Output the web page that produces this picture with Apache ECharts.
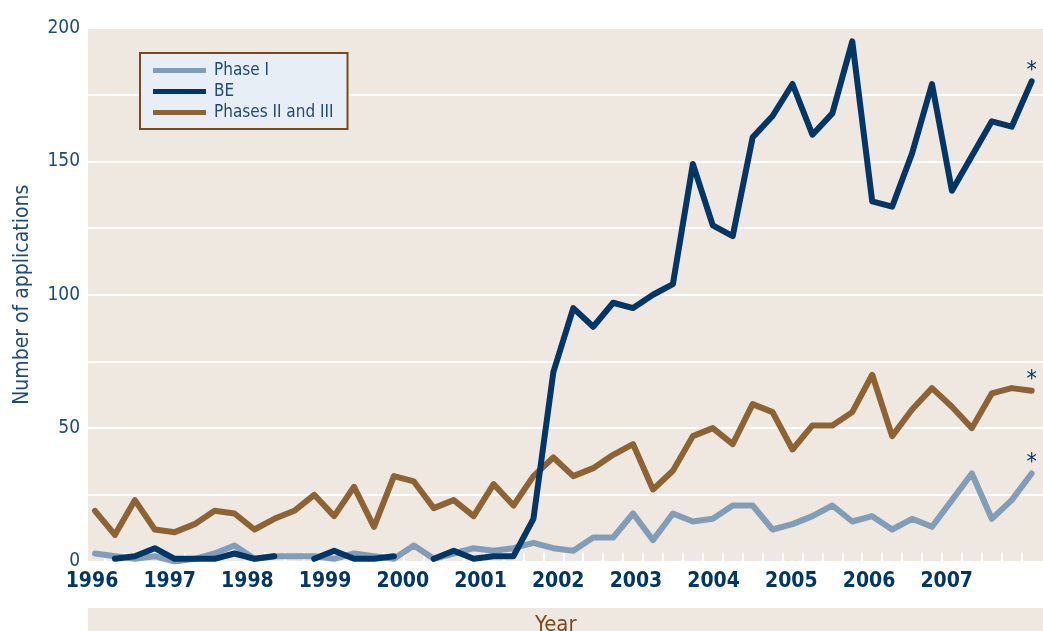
<!DOCTYPE html>
<html>
<head>
<meta charset="utf-8">
<script src="https://cdn.jsdelivr.net/npm/echarts@6/dist/echarts.min.js"></script>
<style>
html,body{margin:0;padding:0;background:#ffffff;}
#chart{width:1043px;height:631px;}
</style>
</head>
<body>
<div id="chart"></div>
<script>
// Quarterly periods, 1996 Q1 .. 2007 Q4
const years = [1996,1997,1998,1999,2000,2001,2002,2003,2004,2005,2006,2007];
const quarters = [];
years.forEach(y => { for (let q = 1; q <= 4; q++) quarters.push(y + ' Q' + q); });

const phaseI = [3,2,1,2,0,1,3,6,1,2, 2,2,1,3,2,1,6,1,3,5, 4,5,7,5,4,9,9,18,8,18, 15,16,21,21,12,14,17,21,15,17, 12,16,13,23,33,16,23,33];
const be = [null,1,2,5,1,1,1,3,1,2, null,1,4,1,1,2,null,1,4,1, 2,2,16,71,95,88,97,95,100,104, 149,126,122,159,167,179,160,168,195,135, 133,153,179,139,152,165,163,180];
const phaseII = [19,10,23,12,11,14,19,18,12,16, 19,25,17,28,13,32,30,20,23,17, 29,21,32,39,32,35,40,44,27,34, 47,50,44,59,56,42,51,51,56,70, 47,57,65,58,50,63,65,64];

const yTicks = [0,50,100,150,200];
const seriesNames = ['Phase I','BE','Phases II and III'];
const lastNote = '*';

const FONT = "'Liberation Sans Narrow','DejaVu Sans Condensed','Roboto Condensed',sans-serif";
const NAVY = '#003767';
const TEXT_NAVY = '#1D4B7C';
const C_P1 = '#819DB8';
const C_BE = '#003767';
const C_P2 = '#8E6334';
const BEIGE = '#EEE8E1';

function toPairs(arr, color){
  return arr.map((v,i) => {
    const item = {value:[i, v]};
    if (i === arr.length - 1) {
      item.symbol = 'circle';
      item.symbolSize = 2;
      item.itemStyle = {color:color};
      item.label = {show:true, formatter:lastNote, position:'top', distance:-2,
        color:NAVY, fontSize:23, fontFamily:FONT};
    }
    return item;
  });
}

const tickPositions = [];
for (let i = 0; i < quarters.length - 1; i++) tickPositions.push(i + 0.5);

const chart = echarts.init(document.getElementById('chart'), null, {renderer:'canvas'});
const option = {
  animation:false,
  backgroundColor:'#ffffff',
  textStyle:{fontFamily:FONT},
  graphic:[{
    type:'rect', z:0,
    shape:{x:88, y:608, width:955, height:23},
    style:{fill:BEIGE}
  }],
  title:{
    text:'Year', left:535, top:614, padding:0, z:10,
    textStyle:{fontSize:22, fontWeight:'normal', color:'#7B4A1C', fontFamily:FONT}
  },
  legend:{
    data:seriesNames,
    orient:'vertical',
    left:140, top:53,
    padding:[9,14,8,13],
    itemGap:4,
    itemWidth:53, itemHeight:5,
    icon:'rect',
    backgroundColor:'#E8EEF6',
    borderColor:'#7B4A1C', borderWidth:2,
    textStyle:{fontSize:17, color:TEXT_NAVY, fontFamily:FONT, padding:[0,0,0,3]}
  },
  grid:{
    left:88, right:0, top:28, bottom:69.5,
    show:true, backgroundColor:BEIGE, borderWidth:0,
    containLabel:false, outerBoundsMode:'none'
  },
  xAxis:[{
    type:'value', position:'bottom',
    min:-0.351, max:47.57,
    axisLine:{show:false},
    splitLine:{show:false},
    axisLabel:{show:false},
    axisTick:{show:true, inside:true, length:9, customValues:tickPositions,
      lineStyle:{color:'#ffffff', width:2}}
  },{
    type:'value', position:'bottom',
    min:1995.9485, max:2008.239,
    axisLine:{show:false},
    splitLine:{show:false},
    axisTick:{show:false},
    axisLabel:{show:true, customValues:years, formatter:v => String(v),
      margin:10, fontSize:21, fontWeight:'bold', color:NAVY, fontFamily:FONT}
  }],
  yAxis:{
    type:'value', min:0, max:200, interval:25,
    name:'Number of applications', nameLocation:'middle', nameGap:55,
    nameTextStyle:{fontSize:21, color:TEXT_NAVY, fontFamily:FONT},
    axisLine:{show:false}, axisTick:{show:false},
    splitLine:{show:true, lineStyle:{color:'#ffffff', width:2}},
    axisLabel:{margin:8, fontSize:19, color:TEXT_NAVY, fontFamily:FONT,
      padding:[0,0,12,0],
      formatter:v => yTicks.indexOf(v) >= 0 ? String(v) : ''}
  },
  series:[
    {name:'Phase I', type:'line', xAxisIndex:0, data:toPairs(phaseI, C_P1), symbol:'none',
      lineStyle:{color:C_P1, width:6, cap:'round', join:'round'}, itemStyle:{color:C_P1}, z:2},
    {name:'Phases II and III', type:'line', xAxisIndex:0, data:toPairs(phaseII, C_P2), symbol:'none',
      lineStyle:{color:C_P2, width:6, cap:'round', join:'round'}, itemStyle:{color:C_P2}, z:3},
    {name:'BE', type:'line', xAxisIndex:0, data:toPairs(be, C_BE), symbol:'none', connectNulls:false,
      lineStyle:{color:C_BE, width:6, cap:'round', join:'round'}, itemStyle:{color:C_BE}, z:4}
  ]
};
chart.setOption(option);
</script>
</body>
</html>
